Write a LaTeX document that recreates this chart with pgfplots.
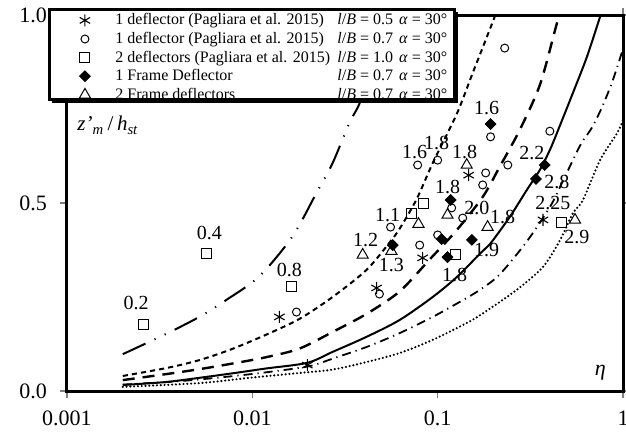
\documentclass[border=0pt]{standalone}
\usepackage{fontspec}
\setmainfont{Liberation Serif}
\usepackage{pgfplots}
\pgfplotsset{compat=1.18}
\newcommand{\lgtxt}[3]{\hspace*{11.5pt}\makebox[111pt][l]{#1}\textit{l}/\textit{B} = #2\hspace{3pt}\textit{α} = #3}

\begin{document}
\begin{tikzpicture}
\begin{axis}[
  name=ax,
  scale only axis, width=278pt, height=188pt,
  xmode=log, xmin=0.001, xmax=1, ymin=0, ymax=1,
  clip mode=individual,
  axis line style={line width=1.5pt},
  xtick={0.001,0.01,0.1,1}, xticklabels={0.001,0.01,0.1,1},
  ytick={0,0.5,1}, yticklabels={0.0,0.5,1.0},
  minor tick num=0, xminorticks=false,
  tick align=outside, major tick length=3.5pt,
  every tick/.style={gray, line width=0.6pt},
  tick label style={font=\fontsize{11}{12}\selectfont},
  xticklabel style={yshift=-3pt},
  yticklabel style={xshift=-3pt},
  /pgf/number format/assume math mode=true,
  legend cell align=left,
  legend style={
    at={(axis description cs:0.0216,1.013)}, anchor=north west,
    font=\fontsize{8}{9}\selectfont,
    draw=none, fill=none,
    inner xsep=0pt, inner ysep=0.3pt,
    nodes={text height=6.5pt, text depth=2pt, inner ysep=0.4pt, inner xsep=1pt},
    every column 0/.style={column sep=0pt},
  },
  legend image post style={xshift=12pt},
]
% ---- curves ----
\addplot[forget plot, black, line width=1pt, smooth,
  dash pattern=on 12.5pt off 5pt on 0.6pt off 5pt on 0.6pt off 5pt]
  coordinates {(0.002,0.098) (0.00343,0.152) (0.00517,0.197) (0.00723,0.242)
  (0.0109,0.305) (0.0164,0.410) (0.0222,0.527) (0.0271,0.606) (0.0334,0.713)
  (0.0379,0.765) (0.045,0.87) (0.054,1.0)};
\addplot[forget plot, black, line width=1pt, smooth,
  dash pattern=on 2.6pt off 2pt]
  coordinates {(0.002,0.040) (0.00343,0.061) (0.00517,0.082) (0.0078,0.112)
  (0.0119,0.150) (0.018,0.192) (0.0271,0.250) (0.0413,0.322) (0.055,0.395)
  (0.0624,0.432) (0.077,0.510) (0.094,0.606) (0.1268,0.737) (0.1546,0.846)
  (0.203,0.995) (0.21,1.02)};
\addplot[forget plot, black, line width=1.2pt, smooth,
  dash pattern=on 6pt off 4pt]
  coordinates {(0.002,0.029) (0.00343,0.045) (0.00517,0.058) (0.0078,0.073)
  (0.0119,0.090) (0.018,0.113) (0.0271,0.157) (0.0413,0.205) (0.0624,0.265)
  (0.0906,0.350) (0.1268,0.428) (0.175,0.516) (0.216,0.596) (0.277,0.694)
  (0.356,0.814) (0.43,0.960) (0.452,1.0)};
\addplot[forget plot, black, line width=1pt, smooth]
  coordinates {(0.002,0.016) (0.00343,0.024) (0.00517,0.035) (0.0078,0.047)
  (0.0119,0.060) (0.0198,0.075) (0.0271,0.104) (0.0413,0.144) (0.0624,0.189)
  (0.094,0.250) (0.1268,0.303) (0.169,0.365) (0.191,0.390) (0.245,0.463)
  (0.303,0.535) (0.356,0.588) (0.403,0.641) (0.44,0.686) (0.537,0.793)
  (0.638,0.888) (0.752,0.995) (0.76,1.0)};
\addplot[forget plot, black, line width=0.9pt, smooth,
  dash pattern=on 4.5pt off 2.5pt on 0.6pt off 2.5pt]
  coordinates {(0.002,0.017) (0.0035,0.024) (0.005,0.030) (0.008,0.040)
  (0.012,0.050) (0.0203,0.066) (0.0271,0.086) (0.0413,0.117) (0.0624,0.154)
  (0.094,0.197) (0.1316,0.237) (0.169,0.269) (0.216,0.310) (0.303,0.398)
  (0.403,0.489) (0.468,0.553) (0.59,0.655) (0.679,0.700) (0.779,0.760)
  (0.886,0.830) (1.0,0.91)};
\addplot[forget plot, black, line width=1.2pt, smooth, line cap=round,
  dash pattern=on 0pt off 1.9pt]
  coordinates {(0.002,0.011) (0.00517,0.021) (0.00964,0.035) (0.018,0.048)
  (0.0271,0.057) (0.0413,0.077) (0.0624,0.101) (0.094,0.136) (0.1436,0.181)
  (0.176,0.207) (0.267,0.269) (0.37,0.330) (0.456,0.400) (0.537,0.473)
  (0.608,0.508) (0.752,0.614) (0.93,0.686) (1.0,0.72)};
% ---- data points ----
\addplot[only marks, mark=asterisk, mark size=3pt, mark options={black, line width=0.55pt}]
  coordinates {(0.0140,0.197) (0.0198,0.069) (0.0468,0.274) (0.0830,0.354)
  (0.147,0.574) (0.370,0.455)};
\addlegendentry{\lgtxt{1 deflector (Pagliara et al. 2015)}{0.5}{30°}}
\addplot[only marks, mark=o, mark size=2pt, mark options={black, line width=0.5pt}]
  coordinates {(0.0173,0.210) (0.0485,0.258) (0.0557,0.436) (0.080,0.388)
  (0.078,0.601) (0.100,0.614) (0.100,0.415) (0.119,0.487) (0.1365,0.460)
  (0.1816,0.580) (0.175,0.548) (0.193,0.676) (0.239,0.601) (0.403,0.691)
  (0.230,0.912)};
\addlegendentry{\lgtxt{1 deflector (Pagliara et al. 2015)}{0.7}{30°}}
\addplot[only marks, mark=square, mark size=2.5pt, mark options={black, line width=0.5pt}]
  coordinates {(0.00260,0.178) (0.00564,0.367) (0.01626,0.277) (0.0723,0.473)
  (0.0839,0.500) (0.125,0.364) (0.468,0.449)};
\addlegendentry{\lgtxt{2 deflectors (Pagliara et al. 2015)}{1.0}{30°}}
\addplot[only marks, mark=square*, mark size=1.9pt, mark options={black, fill=black, rotate=45}]
  coordinates {(0.0572,0.388) (0.105,0.404) (0.113,0.356) (0.1175,0.508)
  (0.153,0.402) (0.193,0.710) (0.339,0.564) (0.378,0.601)};
\addlegendentry{\lgtxt{1 Frame Deflector}{0.7}{30°}}
\addplot[only marks, mark=triangle, mark size=3.2pt, mark options={black, line width=0.5pt}]
  coordinates {(0.0394,0.362) (0.0563,0.372) (0.0788,0.444) (0.113,0.468)
  (0.1435,0.601) (0.186,0.436) (0.551,0.455)};
\addlegendentry{\lgtxt{2 Frame deflectors}{0.7}{30°}}
% ---- point labels ----
\begin{scope}[every node/.style={font=\fontsize{10}{10}\selectfont, inner sep=0pt}]
\node at (axis cs:0.00236,0.234) {0.2};
\node at (axis cs:0.00586,0.420) {0.4};
\node at (axis cs:0.01585,0.322) {0.8};
\node at (axis cs:0.0409,0.402) {1.2};
\node at (axis cs:0.0563,0.335) {1.3};
\node at (axis cs:0.0537,0.468) {1.1};
\node at (axis cs:0.0751,0.636) {1.6};
\node at (axis cs:0.0988,0.660) {1.8};
\node at (axis cs:0.140,0.636) {1.8};
\node at (axis cs:0.184,0.753) {1.6};
\node at (axis cs:0.322,0.633) {2.2};
\node at (axis cs:0.440,0.556) {2.8};
\node at (axis cs:0.113,0.543) {1.8};
\node at (axis cs:0.1626,0.487) {2.0};
\node at (axis cs:0.2244,0.463) {1.8};
\node at (axis cs:0.419,0.500) {2.25};
\node at (axis cs:0.564,0.410) {2.9};
\node at (axis cs:0.184,0.375) {1.9};
\node at (axis cs:0.1236,0.309) {1.8};
\end{scope}
\node[anchor=west, font=\fontsize{10.5}{12}\selectfont, inner sep=0pt] at (axis description cs:0.018,0.707)
  {\textit{z'}\textsubscript{\textit{m}}\,/\,\textit{h}\textsubscript{\textit{st}}};
\node[font=\fontsize{11}{12}\selectfont, inner sep=0pt] at (axis description cs:0.959,0.048) {\textit{η}};
% ---- legend frame ----
\draw[line width=1.5pt, fill=white] (axis description cs:-0.0306,1.0133) rectangle (axis description cs:0.6978,0.7740);
\draw[line width=1.1pt] ([xshift=1pt,yshift=-1.2pt]axis description cs:-0.0306,0.7740) -| ([xshift=1.2pt,yshift=-1pt]axis description cs:0.6978,1.0133);
\end{axis}
\pgfresetboundingbox
\path ([xshift=-33.5pt,yshift=-24.5pt]ax.south west) rectangle ([xshift=1.5pt,yshift=7.5pt]ax.north east);
\end{tikzpicture}
\end{document}
